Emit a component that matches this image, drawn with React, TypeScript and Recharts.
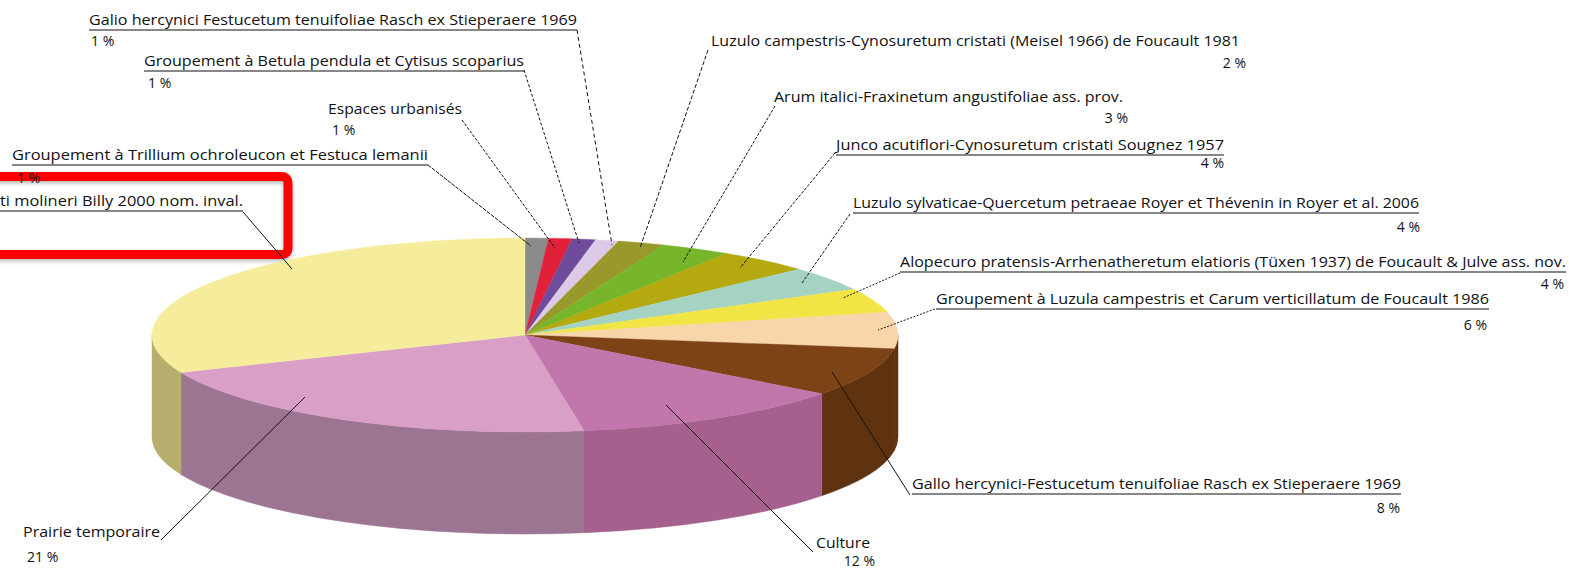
import React from "react";
import { PieChart, Pie, Customized } from "recharts";

// Vegetation units, clockwise from twelve o'clock
const categories = [
  "Groupement à Trillium ochroleucon et Festuca lemanii",
  "Espaces urbanisés",
  "Groupement à Betula pendula et Cytisus scoparius",
  "Galio hercynici Festucetum tenuifoliae Rasch ex Stieperaere 1969",
  "Luzulo campestris-Cynosuretum cristati (Meisel 1966) de Foucault 1981",
  "Arum italici-Fraxinetum angustifoliae ass. prov.",
  "Junco acutiflori-Cynosuretum cristati Sougnez 1957",
  "Luzulo sylvaticae-Quercetum petraeae Royer et Thévenin in Royer et al. 2006",
  "Alopecuro pratensis-Arrhenatheretum elatioris (Tüxen 1937) de Foucault & Julve ass. nov.",
  "Groupement à Luzula campestris et Carum verticillatum de Foucault 1986",
  "Gallo hercynici-Festucetum tenuifoliae Rasch ex Stieperaere 1969",
  "Culture",
  "Prairie temporaire",
  "ti molineri Billy 2000 nom. inval.",
];
const shares = [1, 1, 1, 1, 2, 3, 4, 4, 4, 6, 8, 12, 21, 31];

const topColors = [
  "#8b8b8b", "#e3203a", "#6f4c9b", "#dccae8", "#99982a", "#77b52a", "#b4a90f",
  "#a4d3c4", "#f1e545", "#f8d6aa", "#7d4317", "#c376ac", "#d99fc6", "#f5ed9b",
];
const wallColors = [
  "#666666", "#a81a2c", "#523873", "#a396ac", "#71701f", "#58861f", "#857d0b",
  "#7a9c91", "#b2a933", "#5f3310", "#5f3310", "#a5608e", "#9c7592", "#b6ae6c",
];

const chartData = categories.map((name, i) => ({ name, value: shares[i] }));

const CX = 525;
const CY = 335;
const RX = 373;
const SQUASH = 97 / 373;
const DEPTH = 102;

const FONT = "'Open Sans', sans-serif";
const INK = "#111111";

// Where each label sits: title span, rule, percentage and leader line
type Callout = {
  x: number;
  right: number;
  y: number;
  rule: boolean;
  pctX?: number;
  pctY?: number;
  pctAnchor?: "start" | "end";
  from: [number, number];
  to: [number, number];
  dash?: string;
};
const callouts: Callout[] = [
  { x: 12, right: 428, y: 155, rule: true, pctX: 17, pctY: 178, pctAnchor: "start", from: [428, 165], to: [531, 246], dash: "4 1" },
  { x: 328, right: 462, y: 109, rule: false, pctX: 332, pctY: 130, pctAnchor: "start", from: [462, 120], to: [555, 248], dash: "3 1.5" },
  { x: 144, right: 524, y: 61, rule: true, pctX: 148, pctY: 83, pctAnchor: "start", from: [524, 70], to: [579, 243], dash: "3 2" },
  { x: 89, right: 577, y: 20, rule: true, pctX: 91, pctY: 41, pctAnchor: "start", from: [577, 30], to: [612, 245], dash: "4 3" },
  { x: 711, right: 1240, y: 41, rule: false, pctX: 1246, pctY: 63, pctAnchor: "end", from: [708, 50], to: [640, 248], dash: "4 2" },
  { x: 774, right: 1123, y: 97, rule: false, pctX: 1128, pctY: 118, pctAnchor: "end", from: [775, 106], to: [683, 262], dash: "3 1.5" },
  { x: 836, right: 1224, y: 145, rule: true, pctX: 1224, pctY: 163, pctAnchor: "end", from: [835, 153], to: [740, 268], dash: "3 1.5" },
  { x: 853, right: 1419, y: 203, rule: true, pctX: 1420, pctY: 227, pctAnchor: "end", from: [850, 214], to: [802, 283], dash: "3 1.5" },
  { x: 900, right: 1566, y: 262, rule: true, pctX: 1564, pctY: 284, pctAnchor: "end", from: [900, 273], to: [843, 298], dash: "2 1.5" },
  { x: 936, right: 1489, y: 299, rule: true, pctX: 1487, pctY: 325, pctAnchor: "end", from: [935, 309], to: [878, 330], dash: "2 1.5" },
  { x: 912, right: 1401, y: 484, rule: true, pctX: 1400, pctY: 508, pctAnchor: "end", from: [910, 495], to: [832, 372] },
  { x: 816, right: 870, y: 543, rule: false, pctX: 875, pctY: 561, pctAnchor: "end", from: [813, 552], to: [666, 405] },
  { x: 23, right: 160, y: 532, rule: false, pctX: 27, pctY: 557, pctAnchor: "start", from: [161, 540], to: [305, 397] },
  { x: 0, right: 243, y: 201, rule: true, from: [243, 212], to: [292, 269] },
];

// Pie wedge squashed into an ellipse, with its outer wall on the front half
function EllipticWedge(props: any) {
  const { cx, cy, outerRadius: r, startAngle, endAngle, index } = props;
  const ry = r * SQUASH;
  const at = (deg: number, dy = 0) => {
    const rad = (deg * Math.PI) / 180;
    return `${cx + r * Math.cos(rad)} ${cy - ry * Math.sin(rad) + dy}`;
  };
  const top = topColors[index];
  const wall = wallColors[index];
  const large = startAngle - endAngle > 180 ? 1 : 0;
  const hi = Math.min(startAngle, 0);
  const lo = Math.max(endAngle, -180);
  return (
    <g>
      {hi > lo && (
        <path
          d={`M ${at(hi)} A ${r} ${ry} 0 0 1 ${at(lo)} L ${at(lo, DEPTH)} A ${r} ${ry} 0 0 0 ${at(hi, DEPTH)} Z`}
          fill={wall}
          stroke={wall}
          strokeWidth={0.5}
        />
      )}
      <path
        d={`M ${cx} ${cy} L ${at(startAngle)} A ${r} ${ry} 0 ${large} 1 ${at(endAngle)} Z`}
        fill={top}
        stroke={top}
        strokeWidth={0.4}
      />
    </g>
  );
}

function CalloutLabel(props: any) {
  const { index, value, name } = props;
  const c = callouts[index];
  if (!c) return null;
  return (
    <g>
      <line
        x1={c.from[0]}
        y1={c.from[1]}
        x2={c.to[0]}
        y2={c.to[1]}
        stroke={INK}
        strokeWidth={1}
        strokeDasharray={c.dash}
      />
      <text
        x={c.x}
        y={c.y + 5}
        fontFamily={FONT}
        fontSize={14}
        fill={INK}
        textLength={c.right - c.x}
        lengthAdjust="spacingAndGlyphs"
      >
        {name}
      </text>
      {c.rule && (
        <line x1={c.x} y1={c.y + 10} x2={c.right} y2={c.y + 10} stroke={INK} strokeWidth={1.2} />
      )}
      {c.pctX !== undefined && (
        <text
          x={c.pctX}
          y={(c.pctY as number) + 5}
          fontFamily={FONT}
          fontSize={14}
          fill={INK}
          textAnchor={c.pctAnchor}
        >
          {`${value} %`}
        </text>
      )}
    </g>
  );
}

// Red highlight frame running off the left edge
function HighlightFrame() {
  return (
    <g>
      <defs>
        <filter id="frameShadow" x="-10%" y="-20%" width="120%" height="140%">
          <feDropShadow dx="0" dy="2" stdDeviation="2" floodColor="#000000" floodOpacity="0.3" />
        </filter>
      </defs>
      <rect
        x={-30}
        y={176.5}
        width={318}
        height={78}
        rx={6}
        fill="none"
        stroke="#fe0000"
        strokeWidth={9}
        filter="url(#frameShadow)"
      />
    </g>
  );
}

export default function App() {
  return (
    <div style={{ position: "absolute", left: 0, top: 0, width: 1569, height: 572, overflow: "hidden", background: "#ffffff" }}>
      <PieChart width={1569} height={572} margin={{ top: 0, right: 0, bottom: 0, left: 0 }}>
        <Pie
          data={chartData}
          dataKey="value"
          nameKey="name"
          cx={CX}
          cy={CY}
          innerRadius={0}
          outerRadius={RX}
          startAngle={90}
          endAngle={-270}
          stroke="none"
          isAnimationActive={false}
          shape={EllipticWedge}
          label={CalloutLabel}
          labelLine={false}
        />
        <Customized component={HighlightFrame} />
      </PieChart>
    </div>
  );
}
